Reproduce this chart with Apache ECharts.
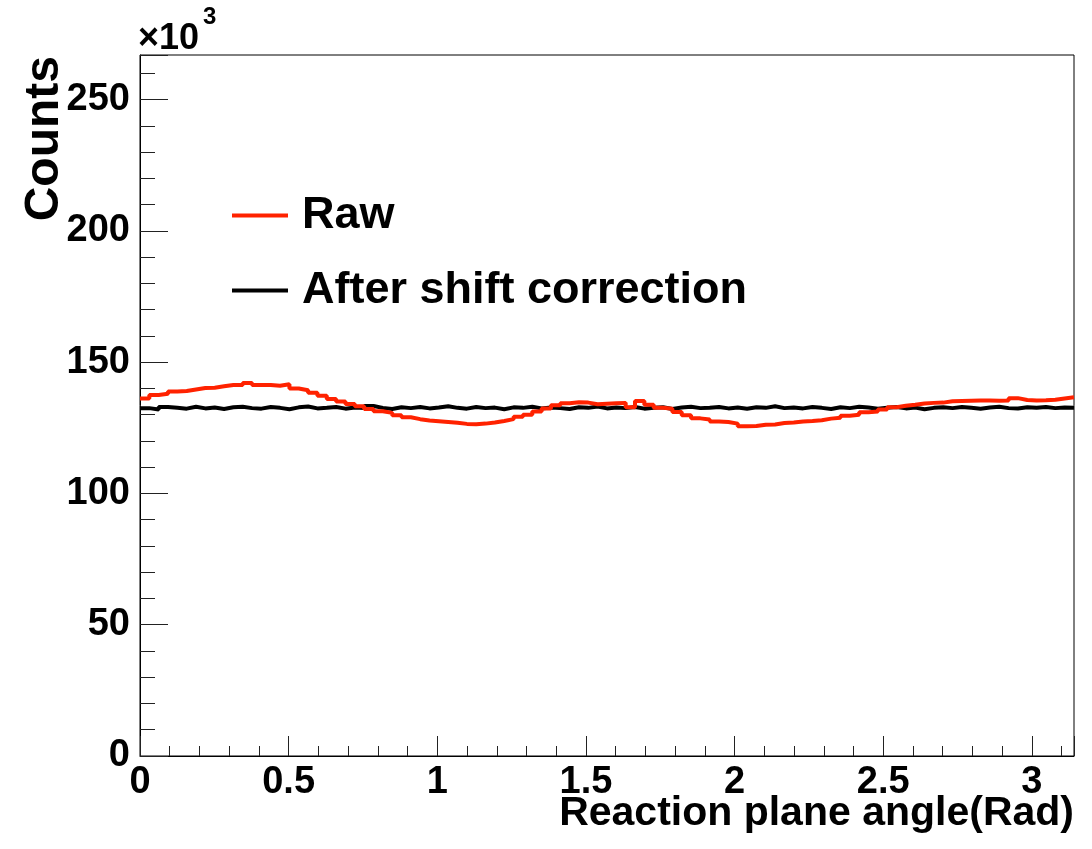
<!DOCTYPE html>
<html><head><meta charset="utf-8">
<script src="https://cdn.jsdelivr.net/npm/echarts@6/dist/echarts.min.js"></script>
<style>html,body{margin:0;padding:0;background:#fff}#c{width:1092px;height:849px}</style>
</head><body><div id="c"></div>
<script>
// ---- data (counts in units of 10^3) ----
const X_MIN = 0, X_MAX = Math.PI;
const Y_MIN = 0, Y_MAX = 267;
const xTickLabels = [0, 0.5, 1, 1.5, 2, 2.5, 3];
const yTickLabels = [0, 50, 100, 150, 200, 250];
const seriesNames = ['Raw', 'After shift correction'];
const xTitle = 'Reaction plane angle(Rad)';
const yTitle = 'Counts';

const raw = [
  136.2,137.5,138.0,138.8,139.0,139.6,140.2,140.3,140.8,141.3,
  141.3,142.1,141.3,141.3,141.0,141.6,140.0,139.3,138.4,137.2,
  136.0,135.0,134.1,133.2,132.2,131.3,130.7,129.8,129.0,128.3,
  127.8,127.5,127.2,126.9,126.5,126.4,126.6,127.0,127.6,128.3,
  129.2,130.0,131.2,132.4,133.6,134.4,134.7,134.6,134.0,134.2,
  134.4,134.5,132.8,135.2,133.8,132.6,132.3,131.0,129.8,128.6,
  128.2,127.4,127.2,126.6,125.6,125.7,126.2,126.3,126.8,127.0,
  127.4,127.6,127.9,128.5,128.8,129.6,130.0,130.9,131.2,132.0,
  132.8,133.4,133.8,134.3,134.5,134.6,135.1,135.2,135.3,135.4,
  135.4,135.3,135.4,136.3,135.6,135.4,135.5,135.7,136.2,136.6
];
const corrected = [
  132.5,132.0,132.9,132.6,132.3,133.0,132.4,132.7,132.2,132.8,
  133.0,132.5,132.3,132.9,132.6,132.1,132.8,133.1,132.4,132.6,
  132.9,132.3,132.7,132.5,133.3,132.6,132.2,132.8,132.5,132.9,
  132.4,132.7,133.2,132.6,132.3,132.9,132.5,132.7,132.1,132.8,
  132.6,133.0,132.4,132.7,132.5,132.2,132.8,132.6,133.1,132.4,
  132.7,132.5,132.9,132.3,132.6,132.8,132.2,132.7,133.0,132.5,
  132.6,132.9,132.4,132.7,132.3,132.8,132.6,133.2,132.5,132.7,
  132.4,132.9,132.6,132.2,132.8,132.5,133.0,132.7,132.3,132.6,
  132.9,132.4,132.7,132.1,132.6,132.8,132.5,132.9,132.6,132.3,
  132.7,133.0,132.5,132.4,132.8,132.6,132.9,132.5,132.7,132.6
];

// histogram -> step points at bin left edges, plus closing point at X_MAX
function toSteps(vals) {
  const w = (X_MAX - X_MIN) / vals.length;
  const pts = vals.map((v, i) => [X_MIN + i * w, v]);
  pts.push([X_MAX, vals[vals.length - 1]]);
  return pts;
}

const FONT = "'Liberation Sans', Arial, Helvetica, sans-serif";
const chart = echarts.init(document.getElementById('c'), null, {renderer: 'canvas'});

const near = (v, arr) => arr.some(t => Math.abs(t - v) < 1e-9);

chart.setOption({
  animation: false,
  backgroundColor: '#fff',
  grid: {left: 140, right: 18, top: 55, bottom: 93, show: true, borderColor: '#000', borderWidth: 1, backgroundColor: 'transparent'},
  legend: {
    data: seriesNames,
    orient: 'vertical',
    left: 227, top: 188,
    icon: 'rect', itemWidth: 56, itemHeight: 4, itemGap: 30,
    selectedMode: false,
    textStyle: {fontFamily: FONT, fontWeight: 'bold', fontSize: 45, color: '#000', padding: [0, 0, 0, 9]}
  },
  xAxis: [
    {
      type: 'value', min: X_MIN, max: X_MAX, interval: 0.5,
      axisLine: {show: true, lineStyle: {color: '#000', width: 1}},
      axisTick: {show: true, inside: true, length: 20, lineStyle: {color: '#222', width: 1}},
      splitLine: {show: false},
      axisLabel: {show: true, margin: 8, fontFamily: FONT, fontWeight: 'bold', fontSize: 38, color: '#000',
        formatter: v => near(v, xTickLabels) ? String(v) : ''}
    },
    {
      type: 'value', min: X_MIN, max: X_MAX, interval: 0.1, position: 'bottom',
      axisLine: {show: false},
      axisTick: {show: true, inside: true, length: 10, lineStyle: {color: '#222', width: 1}},
      splitLine: {show: false},
      axisLabel: {show: false}
    }
  ],
  yAxis: [
    {
      type: 'value', min: Y_MIN, max: Y_MAX, interval: 50,
      axisLine: {show: true, lineStyle: {color: '#000', width: 1}},
      axisTick: {show: true, inside: true, length: 28, lineStyle: {color: '#222', width: 1}},
      splitLine: {show: false},
      axisLabel: {show: true, margin: 10, fontFamily: FONT, fontWeight: 'bold', fontSize: 38, color: '#000',
        formatter: v => near(v, yTickLabels) ? String(v) : ''}
    },
    {
      type: 'value', min: Y_MIN, max: Y_MAX, interval: 10, position: 'left',
      axisLine: {show: false},
      axisTick: {show: true, inside: true, length: 15, lineStyle: {color: '#222', width: 1}},
      splitLine: {show: false},
      axisLabel: {show: false}
    }
  ],
  graphic: [
    {type: 'text', style: {text: xTitle, x: 1074, y: 814, align: 'right', verticalAlign: 'middle',
      font: `bold 41px ${FONT}`, fill: '#000'}},
    {type: 'text', x: 45, y: 56, rotation: Math.PI / 2, style: {text: yTitle, x: 0, y: 0, align: 'right', verticalAlign: 'middle',
      font: `bold 48px ${FONT}`, fill: '#000'}},
    {type: 'text', style: {text: '×10', x: 138, y: 39, align: 'left', verticalAlign: 'middle',
      font: `bold 36px ${FONT}`, fill: '#000'}},
    {type: 'text', style: {text: '3', x: 203, y: 17, align: 'left', verticalAlign: 'middle',
      font: `bold 24px ${FONT}`, fill: '#000'}}
  ],
  series: [
    {
      name: seriesNames[1], type: 'line', step: 'end', xAxisIndex: 0, yAxisIndex: 0,
      data: toSteps(corrected), symbol: 'none', color: '#000',
      lineStyle: {color: '#000', width: 4}, itemStyle: {color: '#000'}, z: 2
    },
    {
      name: seriesNames[0], type: 'line', step: 'end', xAxisIndex: 0, yAxisIndex: 0,
      data: toSteps(raw), symbol: 'none', color: '#ff2200',
      lineStyle: {color: '#ff2200', width: 4}, itemStyle: {color: '#ff2200'}, z: 3
    }
  ]
});
</script>
</body></html>
